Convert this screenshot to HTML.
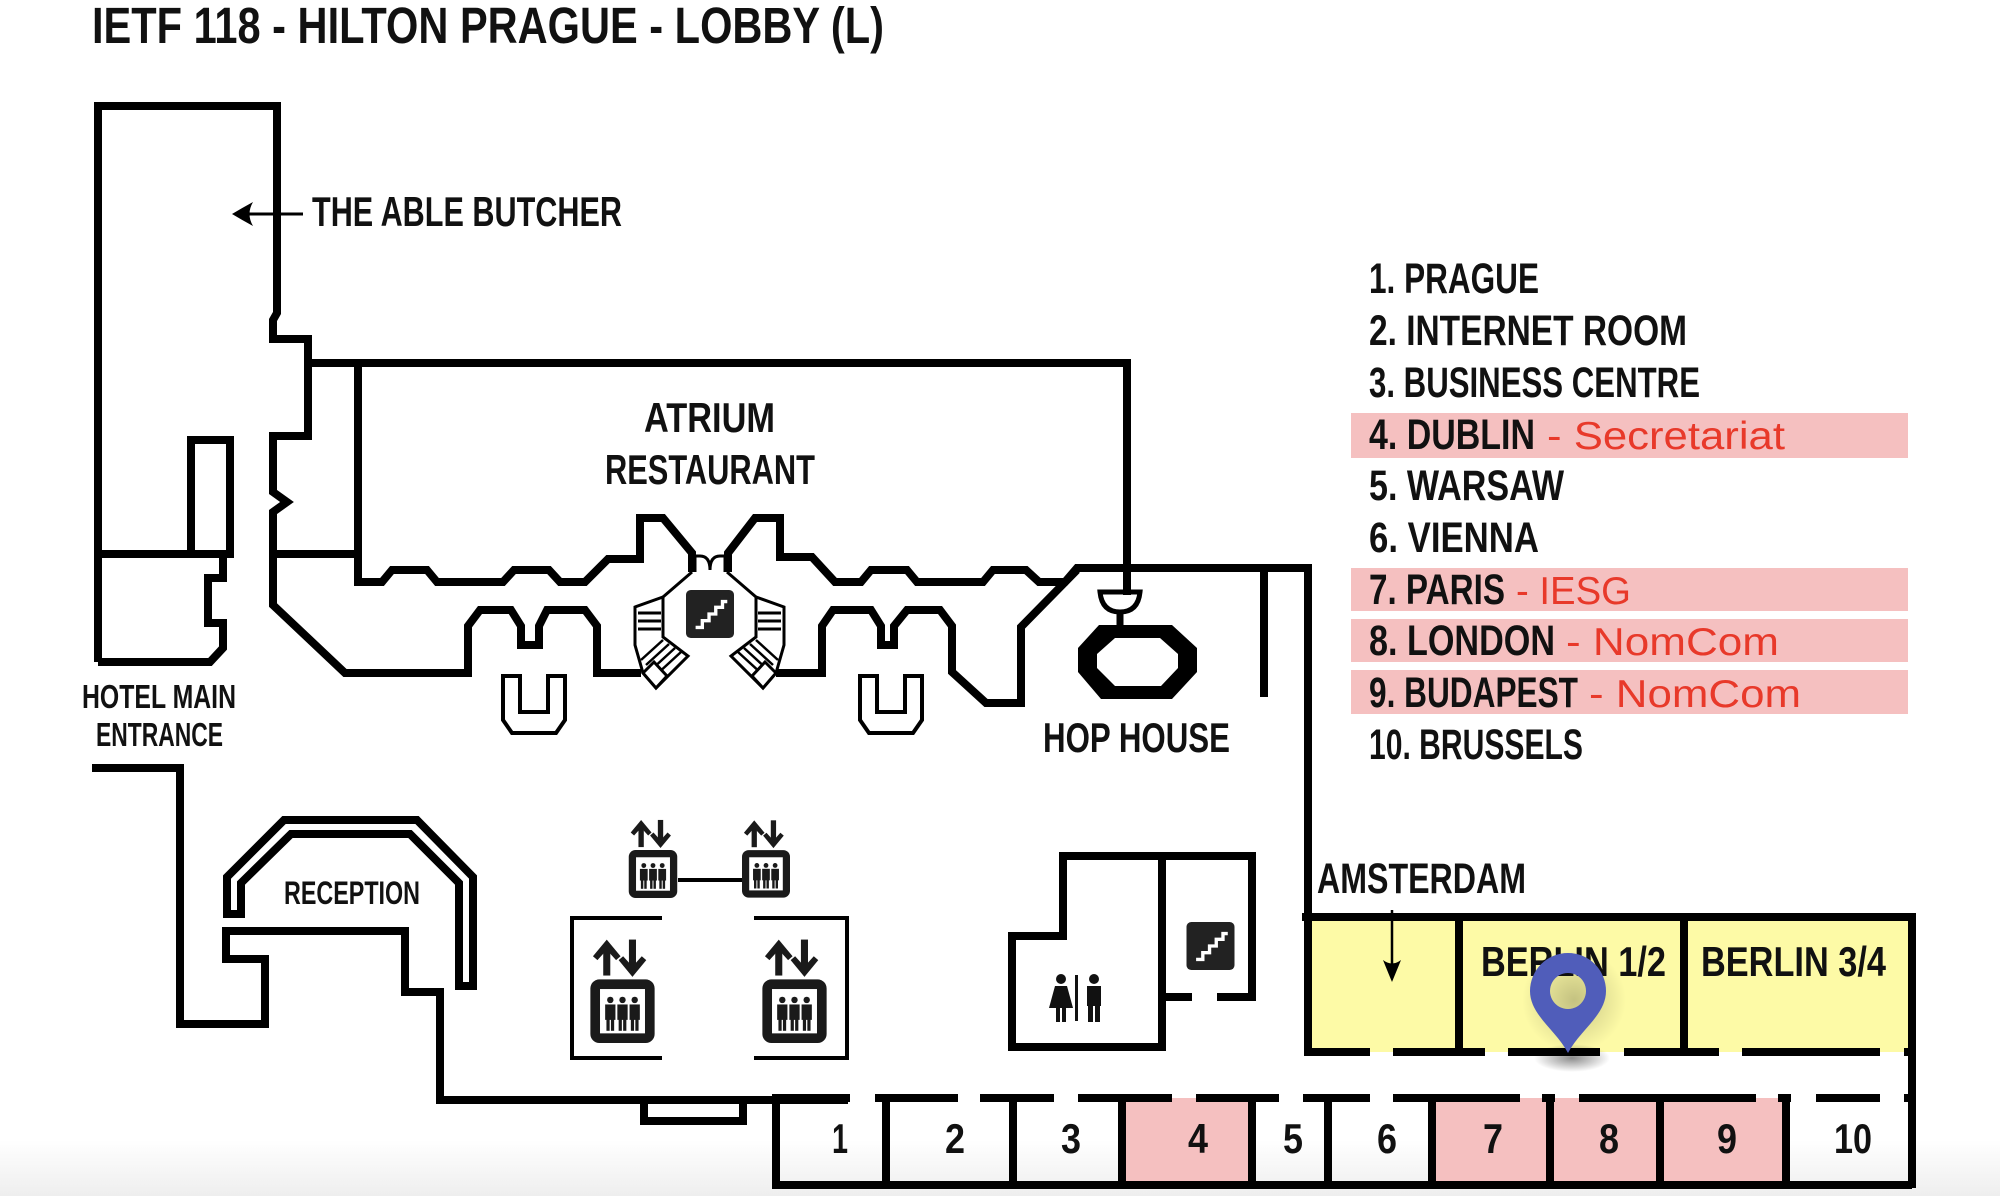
<!DOCTYPE html>
<html><head><meta charset="utf-8"><style>
html,body{margin:0;padding:0;background:#fff;}
svg{display:block;}
text{font-family:"Liberation Sans",sans-serif;}
.b{font-weight:bold;fill:#111;}
.r{fill:#e8392a;}
</style></head><body>
<svg width="2000" height="1196" viewBox="0 0 2000 1196" xmlns="http://www.w3.org/2000/svg">
<defs>
<linearGradient id="bg" x1="0" y1="0" x2="0" y2="1"><stop offset="0" stop-color="#fff"/><stop offset="1" stop-color="#eeeeee"/></linearGradient>
<radialGradient id="sh" cx="0.5" cy="0.5" r="0.5"><stop offset="0" stop-color="#000" stop-opacity="0.45"/><stop offset="1" stop-color="#000" stop-opacity="0"/></radialGradient>
<symbol id="elev" viewBox="0 0 100 165">
<rect x="20" y="18" width="11" height="42" fill="#1a1a1a"/>
<polygon points="4,30 25.5,4 47,30 40,36 25.5,20 11,36" fill="#1a1a1a"/>
<rect x="60" y="4" width="11" height="42" fill="#1a1a1a"/>
<polygon points="44,36 65.5,62 87,36 80,30 65.5,46 51,30" fill="#1a1a1a"/>
<rect x="0" y="66" width="100" height="99" rx="14" fill="#1a1a1a"/>
<rect x="15" y="81" width="70" height="69" fill="#fff"/>
<g fill="#1a1a1a">
<circle cx="31" cy="98" r="5"/><rect x="23" y="105" width="16" height="24"/><rect x="25" y="128" width="5" height="18"/><rect x="32" y="128" width="5" height="18"/>
<circle cx="50" cy="98" r="5"/><rect x="42" y="105" width="16" height="24"/><rect x="44" y="128" width="5" height="18"/><rect x="51" y="128" width="5" height="18"/>
<circle cx="69" cy="98" r="5"/><rect x="61" y="105" width="16" height="24"/><rect x="63" y="128" width="5" height="18"/><rect x="70" y="128" width="5" height="18"/>
</g>
</symbol>
<symbol id="stair" viewBox="0 0 50 50">
<rect x="0" y="0" width="50" height="50" rx="5" fill="#222"/>
<polyline points="10,39 17,39 17,32 24,32 24,25 31,25 31,18 38,18 38,12 43,12" fill="none" stroke="#fff" stroke-width="3.5"/>
</symbol>
<g id="esc">
<line x1="692" y1="572" x2="663" y2="597" stroke="#000" stroke-width="3"/>
<polygon points="635,607 663,597 663,637 688,656 656,688 643,673 635,645" fill="#fff" stroke="#000" stroke-width="3"/>
<line x1="638" y1="613" x2="661" y2="613" stroke="#000" stroke-width="3"/>
<line x1="638" y1="621" x2="661" y2="621" stroke="#000" stroke-width="3"/>
<line x1="638" y1="629" x2="661" y2="629" stroke="#000" stroke-width="3"/>
<line x1="641" y1="660" x2="663" y2="640" stroke="#000" stroke-width="2.5"/>
<line x1="646" y1="665" x2="669" y2="644" stroke="#000" stroke-width="2.5"/>
<line x1="651" y1="670" x2="675" y2="648" stroke="#000" stroke-width="2.5"/>
<line x1="656" y1="675" x2="681" y2="652" stroke="#000" stroke-width="2.5"/>
<polygon points="643,673 654,662 667,676 656,688" fill="#fff" stroke="#000" stroke-width="3"/>
</g>
</defs>
<rect x="0" y="1140" width="2000" height="56" fill="url(#bg)"/>

<text class="b" x="92" y="43" font-size="51" textLength="792" lengthAdjust="spacingAndGlyphs">IETF 118 - HILTON PRAGUE - LOBBY (L)</text>

<rect x="1351" y="413" width="557" height="45" fill="#f5c0c0"/>
<rect x="1351" y="568" width="557" height="43" fill="#f5c0c0"/>
<rect x="1351" y="619" width="557" height="43" fill="#f5c0c0"/>
<rect x="1351" y="670" width="557" height="44" fill="#f5c0c0"/>
<g font-size="43">
<text class="b" x="1369" y="293" textLength="170" lengthAdjust="spacingAndGlyphs">1. PRAGUE</text>
<text class="b" x="1369" y="345" textLength="318" lengthAdjust="spacingAndGlyphs">2. INTERNET ROOM</text>
<text class="b" x="1369" y="397" textLength="331" lengthAdjust="spacingAndGlyphs">3. BUSINESS CENTRE</text>
<text class="b" x="1369" y="449" textLength="166" lengthAdjust="spacingAndGlyphs">4. DUBLIN</text>
<text class="b" x="1369" y="500" textLength="195" lengthAdjust="spacingAndGlyphs">5. WARSAW</text>
<text class="b" x="1369" y="552" textLength="170" lengthAdjust="spacingAndGlyphs">6. VIENNA</text>
<text class="b" x="1369" y="604" textLength="136" lengthAdjust="spacingAndGlyphs">7. PARIS</text>
<text class="b" x="1369" y="655" textLength="186" lengthAdjust="spacingAndGlyphs">8. LONDON</text>
<text class="b" x="1369" y="707" textLength="209" lengthAdjust="spacingAndGlyphs">9. BUDAPEST</text>
<text class="b" x="1369" y="759" textLength="214" lengthAdjust="spacingAndGlyphs">10. BRUSSELS</text>
</g>
<g font-size="39">
<text class="r" x="1547" y="449" textLength="238" lengthAdjust="spacingAndGlyphs">- Secretariat</text>
<text class="r" x="1516" y="604" textLength="115" lengthAdjust="spacingAndGlyphs">- IESG</text>
<text class="r" x="1566" y="655" textLength="213" lengthAdjust="spacingAndGlyphs">- NomCom</text>
<text class="r" x="1589" y="707" textLength="212" lengthAdjust="spacingAndGlyphs">- NomCom</text>
</g>

<rect x="1306" y="917" width="606" height="135" fill="#fdfaa6"/>
<rect x="1122" y="1098" width="130" height="87" fill="#f5c0c0"/>
<rect x="1432" y="1098" width="354" height="87" fill="#f5c0c0"/>

<g fill="none" stroke="#000" stroke-width="8" stroke-linejoin="miter">
<path d="M98,662 V106 H277 V313 L273,320 V339 H308 V436 H273 V492 L287,502 L273,512 V605 L345,673 H468 V626 L480,610 H511 L521,626 V645 H539 V626 L547,610 H585 L597,626 V673 H641"/>
<path d="M98,554 H230 V440 H191 V554"/>
<path d="M223,554 V578 H208 V623 H223 V648 L210,662 H98"/>
<path d="M273,554 H358"/>
<path d="M308,363 H1127 V568"/>
<path d="M358,363 V582 H382 L392,570 H427 L437,582 H503 L514,570 H549 L560,582 H585 L608,559 H640 V518 H663 L692,553 V572"/>
<path d="M728,572 V553 L755,518 H780 V557 H812 L835,582 H861 L871,570 H907 L917,582 H983 L993,570 H1026 L1039,582 H1065 L1077,568 H1308 V1056"/>
<path d="M776,673 H822 V626 L833,610 H871 L881,626 V645 H894 V626 L907,610 H940 L952,626 V672 L986,703 H1021 V627 L1077,570"/>
<path d="M1264,570 V697"/>
<path d="M92,768 H180 V1024 H265 V959 H226 V931 H405 V992 H440 V1100 H848"/>
<path d="M644,1100 V1121 H743 V1100"/>
<path d="M1063,856 V936 H1012 V1047 H1162 V856 Z"/>
<path d="M1162,856 H1252 V997 H1217 M1192,997 H1162"/>
<path d="M1302,917 H1912 V1188"/>
<path d="M1459,917 V1052 M1684,917 V1052"/>
<path d="M776,1098 V1185 H1912"/>
<path d="M886,1098 V1185 M1013,1098 V1185 M1122,1098 V1185 M1252,1098 V1185 M1328,1098 V1185 M1432,1098 V1185 M1550,1098 V1185 M1660,1098 V1185 M1786,1098 V1185"/>
<!-- reception band -->
<path d="M227,918 V877 L284,820 H417 L473,877 V990"/>
<path d="M241,918 V883 L291,834 H410 L459,883 V990"/>
<path d="M227,914 H241 M459,986 H473"/>
</g>
<g stroke="#000" stroke-width="8">
<path d="M1306,1052 H1370 M1393,1052 H1485 M1508,1052 H1600 M1624,1052 H1719 M1742,1052 H1880 M1904,1052 H1912"/>
<path d="M772,1098 H850 M875,1098 H958 M980,1098 H1054 M1078,1098 H1172 M1196,1098 H1279 M1303,1098 H1370 M1393,1098 H1520 M1542,1098 H1555 M1579,1098 H1756 M1778,1098 H1791 M1816,1098 H1880 M1904,1098 H1912"/>
</g>

<path d="M695,572 V556 H700 Q710,556 710,570 Q710,556 720,556 H725 V572" fill="none" stroke="#000" stroke-width="3"/>
<use href="#esc"/>
<use href="#esc" transform="translate(1419,0) scale(-1,1)"/>
<use href="#stair" x="686" y="590" width="48" height="48"/>

<path d="M503,676 V720 L512,733 H556 L565,720 V676 H548 V712 H520 V676 Z" fill="none" stroke="#000" stroke-width="4"/>
<path d="M860,676 V720 L869,733 H913 L922,720 V676 H905 V712 H877 V676 Z" fill="none" stroke="#000" stroke-width="4"/>

<line x1="1127" y1="565" x2="1127" y2="595" stroke="#000" stroke-width="8"/>
<path d="M1100,592 H1140 Q1138,612 1120,612 Q1102,612 1100,592 Z" fill="none" stroke="#000" stroke-width="5"/>
<line x1="1120" y1="610" x2="1120" y2="628" stroke="#000" stroke-width="7"/>
<path d="M1099,625 H1172 L1197,648 V672 L1172,699 H1101 L1078,672 V648 Z M1115,638 L1097,654 V668 L1115,686 H1161 L1178,668 V654 L1160,638 Z" fill="#000" fill-rule="evenodd"/>

<use href="#elev" x="628" y="818" width="50" height="80" preserveAspectRatio="none"/>
<use href="#elev" x="742" y="818" width="48" height="80" preserveAspectRatio="none"/>
<line x1="678" y1="880" x2="742" y2="880" stroke="#000" stroke-width="4"/>
<use href="#elev" x="590" y="937" width="65" height="106" preserveAspectRatio="none"/>
<use href="#elev" x="762" y="937" width="65" height="106" preserveAspectRatio="none"/>
<path d="M662,918 H572 V1058 H662 M754,918 H847 V1058 H754" fill="none" stroke="#000" stroke-width="4"/>

<use href="#stair" x="1186" y="922" width="49" height="48"/>
<g fill="#111">
<circle cx="1061" cy="979" r="5"/><polygon points="1055,986 1067,986 1073,1008 1049,1008"/><rect x="1056" y="1006" width="4" height="16"/><rect x="1062" y="1006" width="4" height="16"/>
<rect x="1075" y="975" width="3" height="46"/>
<circle cx="1094" cy="979" r="5"/><rect x="1087" y="986" width="14" height="20"/><rect x="1088" y="1004" width="5" height="18"/><rect x="1095" y="1004" width="5" height="18"/>
</g>

<line x1="303" y1="214" x2="238" y2="214" stroke="#000" stroke-width="3"/>
<path d="M232,214 Q242,208 253,202 Q246,214 253,226 Q242,220 232,214 Z" fill="#000"/>

<line x1="1392" y1="910" x2="1392" y2="975" stroke="#000" stroke-width="2.5"/>
<path d="M1392,982 Q1387,970 1383,960 Q1392,967 1401,960 Q1397,970 1392,982 Z" fill="#000"/>

<text class="b" x="312" y="226" font-size="42" textLength="310" lengthAdjust="spacingAndGlyphs">THE ABLE BUTCHER</text>
<text class="b" x="644" y="432" font-size="42" textLength="131" lengthAdjust="spacingAndGlyphs">ATRIUM</text>
<text class="b" x="605" y="484" font-size="42" textLength="210" lengthAdjust="spacingAndGlyphs">RESTAURANT</text>
<text class="b" x="82" y="708" font-size="33" textLength="154" lengthAdjust="spacingAndGlyphs">HOTEL MAIN</text>
<text class="b" x="96" y="746" font-size="33" textLength="127" lengthAdjust="spacingAndGlyphs">ENTRANCE</text>
<text class="b" x="284" y="904" font-size="32" textLength="136" lengthAdjust="spacingAndGlyphs">RECEPTION</text>
<text class="b" x="1043" y="752" font-size="42" textLength="187" lengthAdjust="spacingAndGlyphs">HOP HOUSE</text>
<text class="b" x="1317" y="893" font-size="43" textLength="209" lengthAdjust="spacingAndGlyphs">AMSTERDAM</text>
<text class="b" x="1481" y="976" font-size="42" textLength="185" lengthAdjust="spacingAndGlyphs">BERLIN 1/2</text>
<text class="b" x="1701" y="976" font-size="42" textLength="185" lengthAdjust="spacingAndGlyphs">BERLIN 3/4</text>
<g font-size="42" text-anchor="middle">
<text class="b" x="840" y="1153" textLength="16" lengthAdjust="spacingAndGlyphs">1</text>
<text class="b" x="955" y="1153" textLength="20" lengthAdjust="spacingAndGlyphs">2</text>
<text class="b" x="1071" y="1153" textLength="20" lengthAdjust="spacingAndGlyphs">3</text>
<text class="b" x="1198" y="1153" textLength="20" lengthAdjust="spacingAndGlyphs">4</text>
<text class="b" x="1293" y="1153" textLength="20" lengthAdjust="spacingAndGlyphs">5</text>
<text class="b" x="1387" y="1153" textLength="20" lengthAdjust="spacingAndGlyphs">6</text>
<text class="b" x="1493" y="1153" textLength="20" lengthAdjust="spacingAndGlyphs">7</text>
<text class="b" x="1609" y="1153" textLength="20" lengthAdjust="spacingAndGlyphs">8</text>
<text class="b" x="1727" y="1153" textLength="20" lengthAdjust="spacingAndGlyphs">9</text>
<text class="b" x="1853" y="1153" textLength="38" lengthAdjust="spacingAndGlyphs">10</text>
</g>

<ellipse cx="1572" cy="1058" rx="38" ry="14" fill="url(#sh)"/>
<ellipse cx="1574" cy="1000" rx="52" ry="52" fill="url(#sh)" opacity="0.5"/>
<path d="M1568,1053 C1556,1030 1530,1015 1530,991 A38,38 0 0 1 1606,991 C1606,1015 1580,1030 1568,1053 Z M1568,973 A18,18 0 1 0 1568.01,973 Z" fill="#505dba" fill-rule="evenodd"/>
</svg>
</body></html>
